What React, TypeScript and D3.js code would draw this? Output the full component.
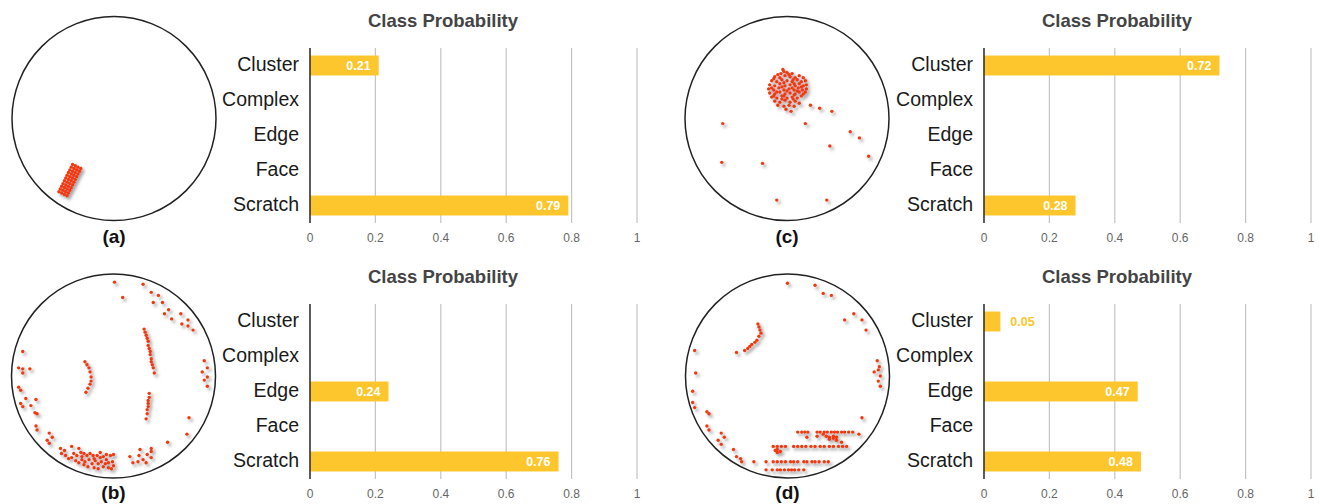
import React from "react";
import * as d3 from "d3";

// class names and predicted probabilities per sub-figure
const categories = ["Cluster", "Complex", "Edge", "Face", "Scratch"];
const probsA = [0.21, 0, 0, 0, 0.79];
const probsB = [0, 0, 0.24, 0, 0.76];
const probsC = [0.72, 0, 0, 0, 0.28];
const probsD = [0.05, 0, 0.47, 0, 0.48];
const xTicks = [0, 0.2, 0.4, 0.6, 0.8, 1];
const tickLabels = ["0", "0.2", "0.4", "0.6", "0.8", "1"];
const panelLabels = ["(a)", "(b)", "(c)", "(d)"];
const chartTitle = "Class Probability";

// failing dies, wafer coords: centre 0,0, edge at radius 100 (y down)
const waferA: [number, number][] = [
  [-40.6, 45.0], [-37.9, 46.3], [-35.3, 47.7], [-32.6, 49.0],
  [-41.9, 47.7], [-39.2, 49.0], [-36.6, 50.4], [-33.9, 51.7],
  [-43.3, 50.4], [-40.6, 51.7], [-38.0, 53.1], [-35.3, 54.4],
  [-44.6, 53.0], [-41.9, 54.3], [-39.3, 55.7], [-36.6, 57.0],
  [-46.0, 55.7], [-43.3, 57.0], [-40.7, 58.4], [-38.0, 59.7],
  [-47.3, 58.4], [-44.6, 59.7], [-42.0, 61.1], [-39.3, 62.4],
  [-48.6, 61.1], [-45.9, 62.4], [-43.3, 63.8], [-40.6, 65.1],
  [-50.0, 63.8], [-47.3, 65.1], [-44.7, 66.5], [-42.0, 67.8],
  [-51.3, 66.4], [-48.6, 67.7], [-46.0, 69.1], [-43.3, 70.4],
  [-52.7, 69.1], [-50.0, 70.4], [-47.4, 71.8], [-44.7, 73.1],
  [-54.0, 71.8], [-51.3, 73.1], [-48.7, 74.5], [-46.0, 75.8],
];

const waferB: [number, number][] = [
  [1, -92], [9, -77], [29, -90], [37, -82], [44, -79], [39, -72], [48, -72],
  [50, -61], [54, -65], [57, -56], [66, -61], [73, -55], [67, -51], [73, -49], [78, -45],
  [30, -46], [31, -43], [32, -40], [33, -37], [34, -34], [34, -30], [35, -27],
  [36, -24], [36, -21], [37, -17], [37, -14], [38, -11], [39, -8], [40, -3],
  [-28, -14], [-26, -11], [-24, -8], [-23, -4], [-22, 1], [-22, 5], [-23, 8], [-25, 12], [-27, 16],
  [35, 17], [35, 21], [34, 24], [34, 27], [34, 30], [33, 33], [33, 37], [32, 42],
  [89, -15], [87, -4], [92, -8], [92, 1], [89, 4], [92, 10],
  [74, 41], [72, 57], [53, 65], [37, 71], [37, 74], [26, 72], [33, 77],
  [25, 78], [37, 80], [29, 82], [24, 84], [16, 79], [19, 85], [32, 85],
  [-89, -24], [-93, -8], [-89, -7], [-82, -7], [-89, -3], [-93, 11], [-91, 14],
  [-86, 22], [-76, 23], [-91, 27], [-89, 30], [-81, 29], [-77, 36], [-75, 37],
  [-76, 49], [-75, 53], [-63, 56], [-60, 60], [-65, 63], [-63, 66],
  [-52, 71], [-48, 73], [-41, 69], [-34, 71], [-51, 76], [-47, 78], [-44, 81],
  [-39, 76], [-36, 78], [-32, 75], [-29, 76], [-26, 78], [-23, 76], [-20, 78],
  [-16, 78], [-13, 80], [-10, 79], [-7, 82], [-3, 78], [0, 77], [-37, 83],
  [-34, 85], [-31, 82], [-28, 84], [-24, 82], [-21, 86], [-18, 83], [-15, 86],
  [-12, 84], [-8, 86], [-5, 85], [-1, 84], [0, 88], [-29, 87], [-25, 89],
  [-19, 90], [-15, 91], [-10, 89], [-5, 90], [-2, 91], [-41, 80], [-31, 79],
  [-19, 81], [-13, 75], [-7, 77],
];

const waferC: [number, number][] = [
  [-4, -48], [23, -13], [32, -10], [44, -7], [4, -7], [-63, 5], [18, 5],
  [62, 13], [71, 19], [42, 27], [80, 37], [-64, 43], [-24, 44], [-10, 80], [39, 80],
  [-6, -44], [0, -45], [5, -44], [-3, -46], [2, -43],
  [-12, -41], [-7, -40], [-2, -42], [3, -41], [8, -40], [12, -42], [-9, -43], [6, -38],
  [-15, -37], [-10, -36], [-5, -38], [0, -37], [5, -36], [10, -38], [14, -36], [18, -37],
  [-13, -39], [-3, -35], [7, -34], [16, -40],
  [-17, -33], [-12, -32], [-7, -34], [-2, -32], [3, -33], [8, -32], [12, -34], [16, -32], [19, -33],
  [-15, -30], [-5, -31], [5, -30], [14, -31],
  [-18, -29], [-13, -28], [-8, -30], [-3, -28], [2, -29], [7, -28], [11, -30], [15, -28], [19, -29],
  [-10, -26], [0, -27], [10, -27], [18, -26],
  [-17, -25], [-12, -24], [-7, -26], [-2, -24], [3, -25], [8, -24], [12, -26], [16, -24],
  [-13, -22], [-3, -22], [7, -23],
  [-15, -21], [-10, -20], [-5, -22], [0, -20], [5, -21], [10, -20], [14, -22],
  [-12, -17], [-7, -16], [-2, -18], [3, -16], [8, -17], [12, -15], [-5, -19], [6, -19],
  [-9, -13], [-3, -12], [2, -13], [7, -12], [-1, -9],
];

const waferD: [number, number][] = [
  [0, -91], [27, -89], [35, -81], [43, -79], [65, -61], [56, -55], [73, -55], [77, -45],
  [88, -15], [90, -9], [89, -6], [85, -4], [91, 0], [89, 5], [91, 10], [73, 41], [70, 57],
  [-29, -51], [-28, -48], [-27, -45], [-26, -42], [-28, -39], [-30, -35],
  [-32, -33], [-35, -31], [-37, -29], [-39, -27], [-42, -25], [-50, -23],
  [-91, -25], [-90, -3], [-93, 15], [-93, 26], [-91, 31], [-79, 35], [-77, 37],
  [-79, 49], [-77, 53], [-65, 56], [-62, 60], [-68, 63], [-65, 67], [-53, 72],
  [-50, 79], [-46, 81], [-45, 84], [-33, 84],
  [10, 55], [14, 55], [17, 55], [20, 55], [29, 55], [32, 55], [36, 55], [39, 55],
  [43, 55], [46, 55], [49, 55], [53, 55], [56, 55], [60, 55], [64, 55],
  [19, 60], [29, 59], [35, 57], [38, 59], [41, 60], [45, 59], [48, 60],
  [41, 62], [45, 61], [48, 63], [53, 65],
  [-14, 69], [-10, 69], [-6, 69], [-2, 69], [6, 69], [10, 69], [14, 69], [18, 69],
  [23, 69], [27, 69], [32, 69], [36, 69], [41, 69], [45, 69], [50, 69], [54, 69], [58, 69],
  [-12, 73], [-10, 75], [-7, 74], [-10, 72],
  [-21, 84], [-14, 84], [-10, 84], [-6, 84], [-2, 84], [3, 84], [6, 84], [10, 84],
  [16, 84], [19, 84], [24, 84], [27, 84], [31, 84], [36, 84], [40, 84],
  [-21, 92], [-15, 92], [-10, 92], [-7, 92], [-3, 92], [1, 92], [4, 92], [7, 92], [11, 92], [16, 92],
];

const FONT = "'Liberation Sans', Arial, sans-serif";
const BAR_COLOR = "#fdc62c";
const DOT_COLOR = "#f2380b";

const Wafer = ({ cx, cy, points, label, labelY }) => {
  const r = 102;
  const sx = d3.scaleLinear().domain([-100, 100]).range([cx - r, cx + r]);
  const sy = d3.scaleLinear().domain([-100, 100]).range([cy - r, cy + r]);
  return (
    <g>
      <circle cx={cx} cy={cy} r={r} fill="none" stroke="#222" strokeWidth={1.5} />
      <g filter="url(#dotShadow)">
        {points.map((p, i) => (
          <circle key={i} cx={sx(p[0])} cy={sy(p[1])} r={1.7} fill={DOT_COLOR} />
        ))}
      </g>
      <text x={cx} y={labelY} textAnchor="middle" fontWeight="bold" fontSize={19} fill="#111">
        {label}
      </text>
    </g>
  );
};

const BarChart = ({ x0, y0, values }) => {
  const x = d3.scaleLinear().domain([0, 1]).range([x0, x0 + 327]);
  const y = d3
    .scaleBand()
    .domain(categories)
    .range([y0, y0 + 175])
    .paddingInner(0.43)
    .paddingOuter(0.215);
  const bw = y.bandwidth();
  const yEnd = y0 + 175;

  return (
    <g>
      <text x={x0 + 133} y={y0 - 21} textAnchor="middle" fontWeight="bold" fontSize={18.5} fill="#444">
        {chartTitle}
      </text>
      {/* gridlines */}
      {xTicks.slice(1).map((t) => (
        <line key={t} x1={x(t)} x2={x(t)} y1={y0} y2={yEnd} stroke="#c4c4c4" strokeWidth={1.2} />
      ))}
      {/* bars */}
      {values.map((v, i) =>
        v > 0 ? (
          <rect key={i} x={x(0)} y={y(categories[i])} width={x(v) - x(0)} height={bw} fill={BAR_COLOR} />
        ) : null
      )}
      {/* value labels */}
      {values.map((v, i) => {
        if (v <= 0) return null;
        const inside = x(v) - x(0) > 40;
        return (
          <text
            key={i}
            x={inside ? x(v) - 8 : x(v) + 10}
            y={y(categories[i]) + bw / 2 + 4.5}
            textAnchor={inside ? "end" : "start"}
            fontWeight="bold"
            fontSize={12.5}
            fill={inside ? "#fff" : BAR_COLOR}
          >
            {v.toFixed(2)}
          </text>
        );
      })}
      <line x1={x(0)} x2={x(0)} y1={y0} y2={yEnd} stroke="#333" strokeWidth={1.6} />
      {/* category labels */}
      {categories.map((c) => (
        <text key={c} x={x0 - 11} y={y(c) + bw / 2 + 5.5} textAnchor="end" fontSize={19.5} fill="#1a1a1a">
          {c}
        </text>
      ))}
      {/* tick labels */}
      {xTicks.map((t, i) => (
        <text key={t} x={x(t)} y={yEnd + 19} textAnchor="middle" fontSize={12} fill="#666">
          {tickLabels[i]}
        </text>
      ))}
    </g>
  );
};

export default function App() {
  return (
    <svg
      width={1320}
      height={504}
      style={{ position: "absolute", left: 0, top: 0, background: "#fff" }}
      fontFamily={FONT}
    >
      <defs>
        <filter id="dotShadow" x="-20%" y="-20%" width="140%" height="140%">
          <feDropShadow dx={2.2} dy={2.4} stdDeviation={1.4} floodColor="#555" floodOpacity={0.6} />
        </filter>
      </defs>
      <Wafer cx={114} cy={118.5} points={waferA} label={panelLabels[0]} labelY={243} />
      <BarChart x0={310} y0={48} values={probsA} />
      <Wafer cx={787} cy={118.5} points={waferC} label={panelLabels[2]} labelY={243} />
      <BarChart x0={984} y0={48} values={probsC} />
      <Wafer cx={113.5} cy={376} points={waferB} label={panelLabels[1]} labelY={499} />
      <BarChart x0={310} y0={304} values={probsB} />
      <Wafer cx={787.5} cy={376} points={waferD} label={panelLabels[3]} labelY={499} />
      <BarChart x0={984} y0={304} values={probsD} />
    </svg>
  );
}
